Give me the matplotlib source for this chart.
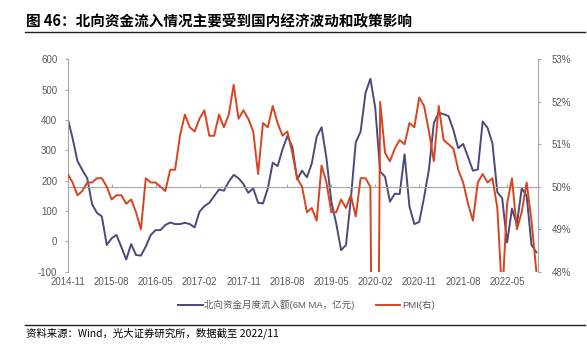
"""
图 46：北向资金流入情况主要受到国内经济波动和政策影响
Northbound monthly inflow (6M MA) vs official manufacturing PMI.
"""
import pandas as pd
import matplotlib.pyplot as plt

# ── Data ──────────────────────────────────────────────────────────────────────
months = pd.period_range("2014-11", "2022-11", freq="M").strftime("%Y-%m").tolist()

# 北向资金月度流入额 (6M MA, 亿元)
northbound = [
    405, 340, 265, 235, 208, 122, 94, 82, -12, 10,
    21, -19, -60, -9, -45, -47, -17, 21, 37, 37,
    54, 62, 57, 57, 61, 57, 46, 98, 116, 127,
    149, 171, 167, 197, 219, 208, 189, 160, 175, 127,
    125, 175, 259, 248, 303, 347, 312, 204, 233, 211,
    257, 345, 376, 274, 131, 59, -29, -12, 140, 326,
    362, 489, 536, 440, 230, 213, 131, 157, 156, 287,
    115, 57, 64, 145, 238, 390, 424, 419, 413, 367,
    307, 321, 278, 233, 237, 395, 374, 323, 162, 142,
    -4, 108, 56, 175, 150, -12, -36,
]

# 制造业 PMI (%)
pmi = [
    50.3, 50.1, 49.8, 49.9, 50.1, 50.1, 50.2, 50.2, 50.0, 49.7,
    49.8, 49.8, 49.6, 49.7, 49.4, 49.0, 50.2, 50.1, 50.1, 50.0,
    49.9, 50.4, 50.4, 51.2, 51.7, 51.4, 51.3, 51.6, 51.8, 51.2,
    51.2, 51.7, 51.4, 51.7, 52.4, 51.6, 51.8, 51.6, 51.3, 50.3,
    51.5, 51.4, 51.9, 51.5, 51.2, 51.3, 50.8, 50.2, 50.0, 49.4,
    49.5, 49.2, 50.5, 50.1, 49.4, 49.4, 49.7, 49.5, 49.8, 49.3,
    50.2, 50.2, 50.0, 35.7, 52.0, 50.8, 50.6, 50.9, 51.1, 51.0,
    51.5, 51.4, 52.1, 51.9, 51.3, 50.6, 51.9, 51.1, 51.0, 50.9,
    50.4, 50.1, 49.6, 49.2, 50.1, 50.3, 50.1, 50.2, 49.5, 47.4,
    49.6, 50.2, 49.0, 49.4, 50.1, 49.2, 48.0,
]

left_ticks = [-100, 0, 100, 200, 300, 400, 500, 600]
right_ticks = [48, 49, 50, 51, 52, 53]
tick_every = 9

BLUE = "#4a4a7c"
RED = "#d8441f"
GREY = "#a6a6a6"
LABEL = "#595959"
LATIN = ["Liberation Sans", "Noto Sans CJK SC", "DejaVu Sans"]
CJK = ["Noto Sans CJK SC", "DejaVu Sans"]

x = list(range(len(months)))

# ── Plot ──────────────────────────────────────────────────────────────────────
fig = plt.figure(figsize=(5.87, 3.5), dpi=100)
ax = fig.add_axes([0.1153, 0.2237, 0.8018, 0.6069])
ax2 = ax.twinx()

ax.plot(x, northbound, color=BLUE, linewidth=1.4, label="北向资金月度流入额(6M MA，亿元)")
ax2.plot(x, pmi, color=RED, linewidth=1.4, label="PMI(右)")

ax.set_xlim(0, 96.4)
ax.set_ylim(-100, 600)
ax2.set_ylim(48, 53)

# left axis
ax.set_yticks(left_ticks)
ax.set_yticklabels([str(v) for v in left_ticks], family=LATIN)
ax.tick_params(axis="y", direction="out", length=2.5, width=0.8, color=GREY,
               labelsize=7, labelcolor=LABEL, pad=5)
ax.spines["left"].set_color(GREY)
ax.spines["top"].set_visible(False)
ax.spines["right"].set_visible(False)

# crossing line at 180 / 50% with upward ticks
ax.spines["bottom"].set_position(("data", 180))
ax.spines["bottom"].set_color(GREY)
ax.set_xticks(x[::tick_every])
ax.tick_params(axis="x", direction="in", length=2.5, width=0.8, color=GREY,
               labelbottom=False)

# date labels at the bottom of the axes
sec = ax.secondary_xaxis(0)
sec.set_xticks(x[::tick_every], [months[i] for i in x[::tick_every]], family=LATIN)
sec.tick_params(length=0, labelsize=7, labelcolor=LABEL, pad=4)
sec.spines["bottom"].set_visible(False)

# right axis
ax2.set_yticks(right_ticks)
ax2.set_yticklabels([f"{v}%" for v in right_ticks], family=LATIN)
ax2.tick_params(axis="y", direction="out", length=2.5, width=0.8, color=GREY,
                labelsize=7, labelcolor=LABEL, pad=7)
ax2.spines["right"].set_color(GREY)
for s in ("left", "top", "bottom"):
    ax2.spines[s].set_visible(False)

# legend
h1, l1 = ax.get_legend_handles_labels()
h2, l2 = ax2.get_legend_handles_labels()
leg = fig.legend(h1 + h2, l1 + l2, loc="center", bbox_to_anchor=(0.522, 1 - 305 / 350),
                 ncol=2, frameon=False, handlelength=2.6, handletextpad=0.2,
                 columnspacing=2.2, prop={"family": LATIN, "size": 6.8})
for t in leg.get_texts():
    t.set_color(LABEL)

# title + source
fig.text(26 / 587, 1 - 21.5 / 350, "图 46：北向资金流入情况主要受到国内经济波动和政策影响",
         family=CJK, fontsize=10.5, fontweight="bold", va="center", ha="left")
fig.add_artist(plt.Line2D([25 / 587, 585 / 587], [1 - 32 / 350] * 2,
                          color="#222222", linewidth=1.0))
fig.add_artist(plt.Line2D([25 / 587, 585 / 587], [1 - 325 / 350] * 2,
                          color="#222222", linewidth=1.0))
fig.text(26 / 587, 1 - 333 / 350, "资料来源：Wind，光大证券研究所，数据截至 2022/11",
         family=CJK, fontsize=7.5, va="center", ha="left")

fig.savefig("out.png", dpi=100)
